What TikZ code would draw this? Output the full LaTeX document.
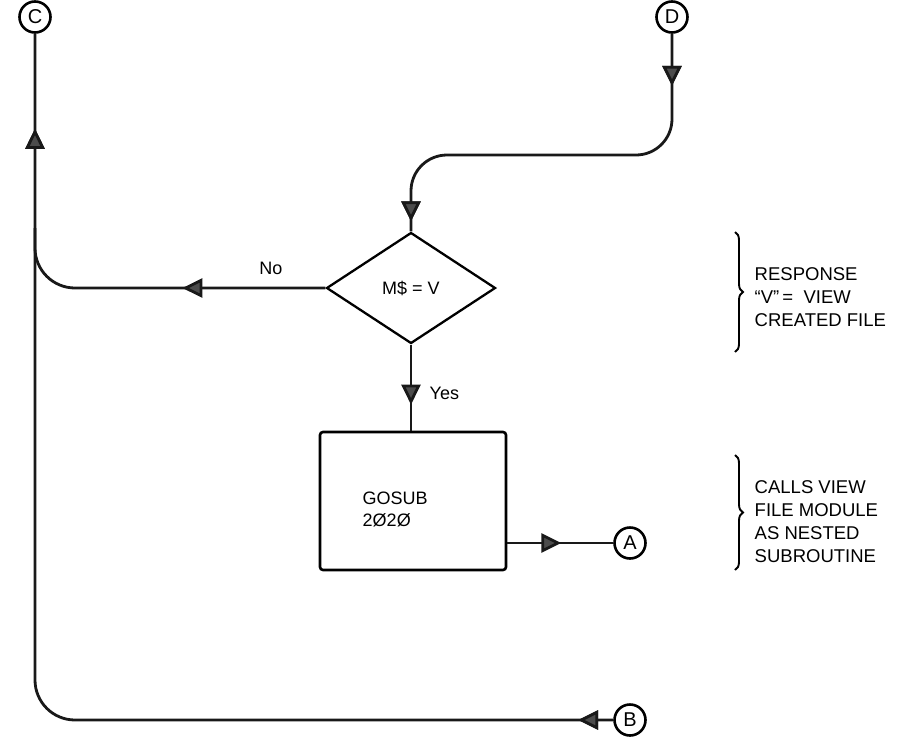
\documentclass[tikz,border=0pt]{standalone}
\usepackage{fontspec}
\setmainfont{Liberation Sans}
\usepackage{tikz}
\usetikzlibrary{arrows.meta,shapes.geometric,decorations.markings,decorations.pathreplacing,positioning}

\begin{document}
\begin{tikzpicture}[x=1pt,y=-1pt,
    line width=2.8pt,
    every node/.style={font=\fontsize{18}{22}\selectfont},
    conn/.style={draw,circle,minimum size=31pt,inner sep=0pt,line width=2.6pt,font=\fontsize{20}{20}\selectfont},
    decision/.style={draw,diamond,minimum width=169pt,minimum height=111pt,inner sep=0pt,line width=2.3pt},
    proc/.style={draw,rectangle,rounded corners=3pt,minimum width=186pt,minimum height=138pt,line width=2.6pt},
    flow/.style={draw=black!90},
    tipat/.style={postaction={decorate},decoration={markings,
        mark=at position #1 with {\arrow{Triangle[length=20pt,width=19pt,fill=black!70]}}}},
    note/.style={align=left,anchor=west,font=\fontsize{18.5}{23}\selectfont},
    bracket/.style={decorate,decoration={brace,amplitude=8pt},line width=1.9pt}]
	\useasboundingbox (0,0) rectangle (903,745);
	
	\node[conn] (C) at (35,17) {C};
	\node[conn] (D) at (672,17) {D};
	\node[conn] (A) at (630,543) {A};
	\node[conn] (B) at (630,720) {B};
	
	\node[decision] (dec) at (411,288) {M\$ = V};
	\node[proc] (gosub) at (413,501) {};
	\node[anchor=west,align=left] (gosubtxt) at (358,509) {GOSUB\\2Ø2Ø};
	
	\coordinate (bl) at (35,720);
	\coordinate (nl) at (35,288);
	\coordinate (dr) at (672,155);
	\coordinate (dl) at (411,155);
	
	% D down into the test
	\draw[flow,rounded corners=36pt,tipat=52pt,tipat=-10pt] (D) -- (dr) -- (dl) -- (dec.north);
	
	\draw[flow,tipat=60pt] (dec.south) -- (dec.south |- gosub.north);
	\node[anchor=west] (yes) at (425,393) {Yes};
	
	\draw[flow,rounded corners=40pt,tipat=143pt] (dec.west) -- (nl) -- ++(0,-60);
	\node (no) at (271,268) {No};
	
	\draw[flow,tipat=54pt] (gosub.east |- A) -- (A);
	
	\draw[flow,rounded corners=40pt,tipat=35pt,tipat=-95pt] (B) -- (bl) -- (C);
	
	% notes
	\draw[bracket] (735,232) -- (735,352);
	\node[note] (resp) at (750,297) {RESPONSE\\``V''\,= \ VIEW\\CREATED FILE};
	\draw[bracket] (735,455) -- (735,570);
	\node[note] (calls) at (750,522) {CALLS VIEW\\FILE MODULE\\AS NESTED\\SUBROUTINE};
\end{tikzpicture}
\end{document}
